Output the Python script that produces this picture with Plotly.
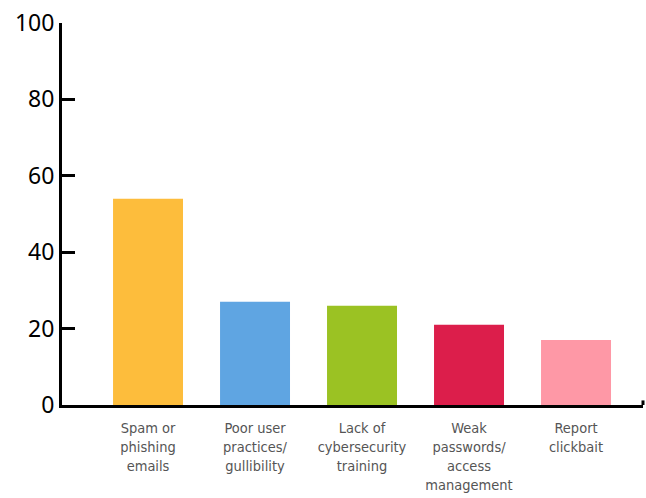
import plotly.graph_objects as go

categories = ["Spam or<br>phishing<br>emails", "Poor user<br>practices/<br>gullibility",
              "Lack of<br>cybersecurity<br>training", "Weak<br>passwords/<br>access<br>management",
              "Report<br>clickbait"]
values = [54, 27, 26, 21, 17]
colors = ["#FDBD3C", "#5FA5E2", "#9BC223", "#DC1E4B", "#FE98A6"]
y_ticks = [0, 20, 40, 60, 80, 100]

fig = go.Figure(go.Bar(x=list(range(len(categories))), y=values, marker_color=colors,
                       marker_line_width=0, width=0.654))

fig.update_layout(
    width=646, height=498,
    margin=dict(l=62, r=3, t=23, b=93, autoexpand=False),
    plot_bgcolor="white", paper_bgcolor="white",
    showlegend=False,
)
fig.update_xaxes(
    range=[-0.804, 4.626], tickmode="array", tickvals=list(range(len(categories))),
    ticktext=categories, showline=True, linecolor="black", linewidth=3,
    ticks="", showgrid=False, zeroline=False, automargin=False,
    tickfont=dict(family="DejaVu Sans Condensed, Roboto, sans-serif", size=14.5, color="#555555"),
    ticklabelstandoff=8, ticklabeloverflow="allow",
)
fig.update_yaxes(
    range=[0, 100], tickvals=y_ticks, showline=True, linecolor="black", linewidth=3,
    ticks="inside", ticklen=13, tickwidth=3, tickcolor="black", showgrid=False, zeroline=False,
    automargin=False, ticklabeloverflow="allow",
    tickfont=dict(family="Noto Sans, sans-serif", size=23, color="black"),
)
fig.add_shape(type="line", xref="paper", yref="paper", x0=1, x1=1, y0=0, y1=0.012,
              line=dict(color="black", width=3))

fig.write_html("out.html", config={"displayModeBar": False},
               post_script="document.body.style.margin='0';document.body.style.overflow='hidden';")
